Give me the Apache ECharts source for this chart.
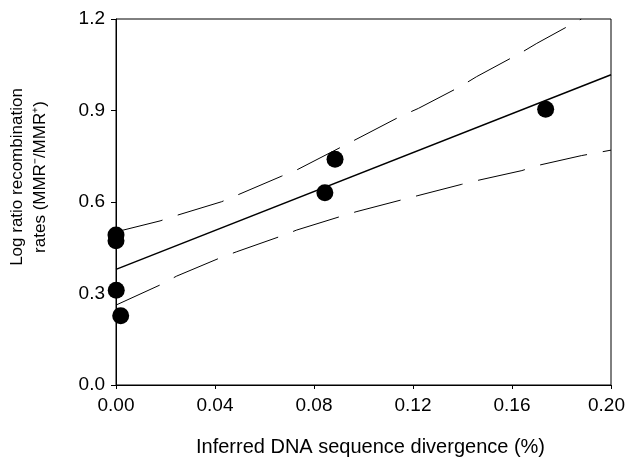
<!DOCTYPE html>
<html>
<head>
<meta charset="utf-8">
<script src="https://cdn.jsdelivr.net/npm/echarts@6/dist/echarts.min.js"></script>
<style>
  html, body { margin: 0; padding: 0; background: #fff; }
  #chart { width: 627px; height: 458px; }
</style>
</head>
<body>
<div id="chart"></div>
<script>
// observed points: divergence (%) / log ratio
var pointX = [0.0000, 0.0000, 0.0001, 0.0019, 0.0844, 0.0885, 0.1736];
var pointY = [0.492, 0.473, 0.311, 0.227, 0.630, 0.740, 0.904];

// fitted regression line
var fitX = [0, 0.2];
var fitY = [0.379, 1.017];

// upper 95% band
var upperX = [0, 0.0178, 0.0245, 0.0427, 0.0488, 0.067, 0.073, 0.0986, 0.1147, 0.1222, 0.139, 0.1457, 0.164, 0.170, 0.188];
var upperY = [0.502, 0.538, 0.556, 0.601, 0.622, 0.685, 0.705, 0.812, 0.880, 0.907, 0.978, 1.011, 1.091, 1.120, 1.200];

// lower 95% band
var lowerX = [0, 0.0178, 0.0245, 0.0427, 0.0488, 0.067, 0.073, 0.0905, 0.097, 0.1154, 0.122, 0.1397, 0.1457, 0.164, 0.170, 0.188, 0.2];
var lowerY = [0.262, 0.328, 0.357, 0.419, 0.437, 0.489, 0.508, 0.552, 0.568, 0.607, 0.621, 0.658, 0.670, 0.703, 0.719, 0.752, 0.770];

function zip(xs, ys) {
    return xs.map(function (x, i) { return [x, ys[i]]; });
}

var font = 'Liberation Sans, Arial, sans-serif';
var myChart = echarts.init(document.getElementById('chart'));

var option = {
    backgroundColor: '#fff',
    animation: false,
    grid: {
        left: 116, right: 16, top: 19, bottom: 73,
        outerBoundsMode: 'none',
        show: true, borderColor: '#000', borderWidth: 1, backgroundColor: 'transparent'
    },
    xAxis: {
        type: 'value',
        min: 0, max: 0.2, interval: 0.04,
        name: 'Inferred DNA sequence divergence (%)',
        nameLocation: 'middle',
        nameGap: 52,
        nameTextStyle: { fontFamily: font, fontSize: 20, color: '#000', padding: [0, 0, 0, 14] },
        axisLine: { lineStyle: { color: '#000', width: 1 } },
        axisTick: { show: true, length: 4, lineStyle: { color: '#000' } },
        axisLabel: {
            margin: 11, fontFamily: font, fontSize: 19, color: '#000',
            formatter: function (v) {
                // keep the last label inside the canvas
                return v >= 0.2 ? '{last|' + v.toFixed(2) + '}' : v.toFixed(2);
            },
            rich: { last: { fontFamily: font, fontSize: 19, color: '#000', padding: [0, 9, 0, 0] } }
        },
        splitLine: { show: false }
    },
    yAxis: {
        type: 'value',
        min: 0, max: 1.2, interval: 0.3,
        name: 'Log ratio recombination\nrates (MMR\u207B/MMR\u207A)',
        nameLocation: 'middle',
        nameGap: 64,
        nameTextStyle: { fontFamily: font, fontSize: 17, color: '#000', lineHeight: 23, padding: [0, 0, 0, 50] },
        axisLine: { lineStyle: { color: '#000', width: 1 } },
        axisTick: { show: true, length: 5, lineStyle: { color: '#000' } },
        axisLabel: {
            margin: 11, fontFamily: font, fontSize: 19, color: '#000',
            formatter: function (v) { return v.toFixed(1); }
        },
        splitLine: { show: false }
    },
    series: [
        {
            name: 'fit', type: 'line', data: zip(fitX, fitY),
            showSymbol: false, lineStyle: { color: '#000', width: 1.5 }
        },
        {
            name: 'upper', type: 'line', data: zip(upperX, upperY),
            showSymbol: false, lineStyle: { color: '#000', width: 1, type: [48, 16] }
        },
        {
            name: 'lower', type: 'line', data: zip(lowerX, lowerY),
            showSymbol: false, lineStyle: { color: '#000', width: 1, type: [48, 16] }
        },
        {
            name: 'points', type: 'scatter', data: zip(pointX, pointY),
            symbol: 'circle', symbolSize: 17, clip: false,
            itemStyle: { color: '#000', opacity: 1 }, z: 5
        }
    ]
};
myChart.setOption(option);
</script>
</body>
</html>
